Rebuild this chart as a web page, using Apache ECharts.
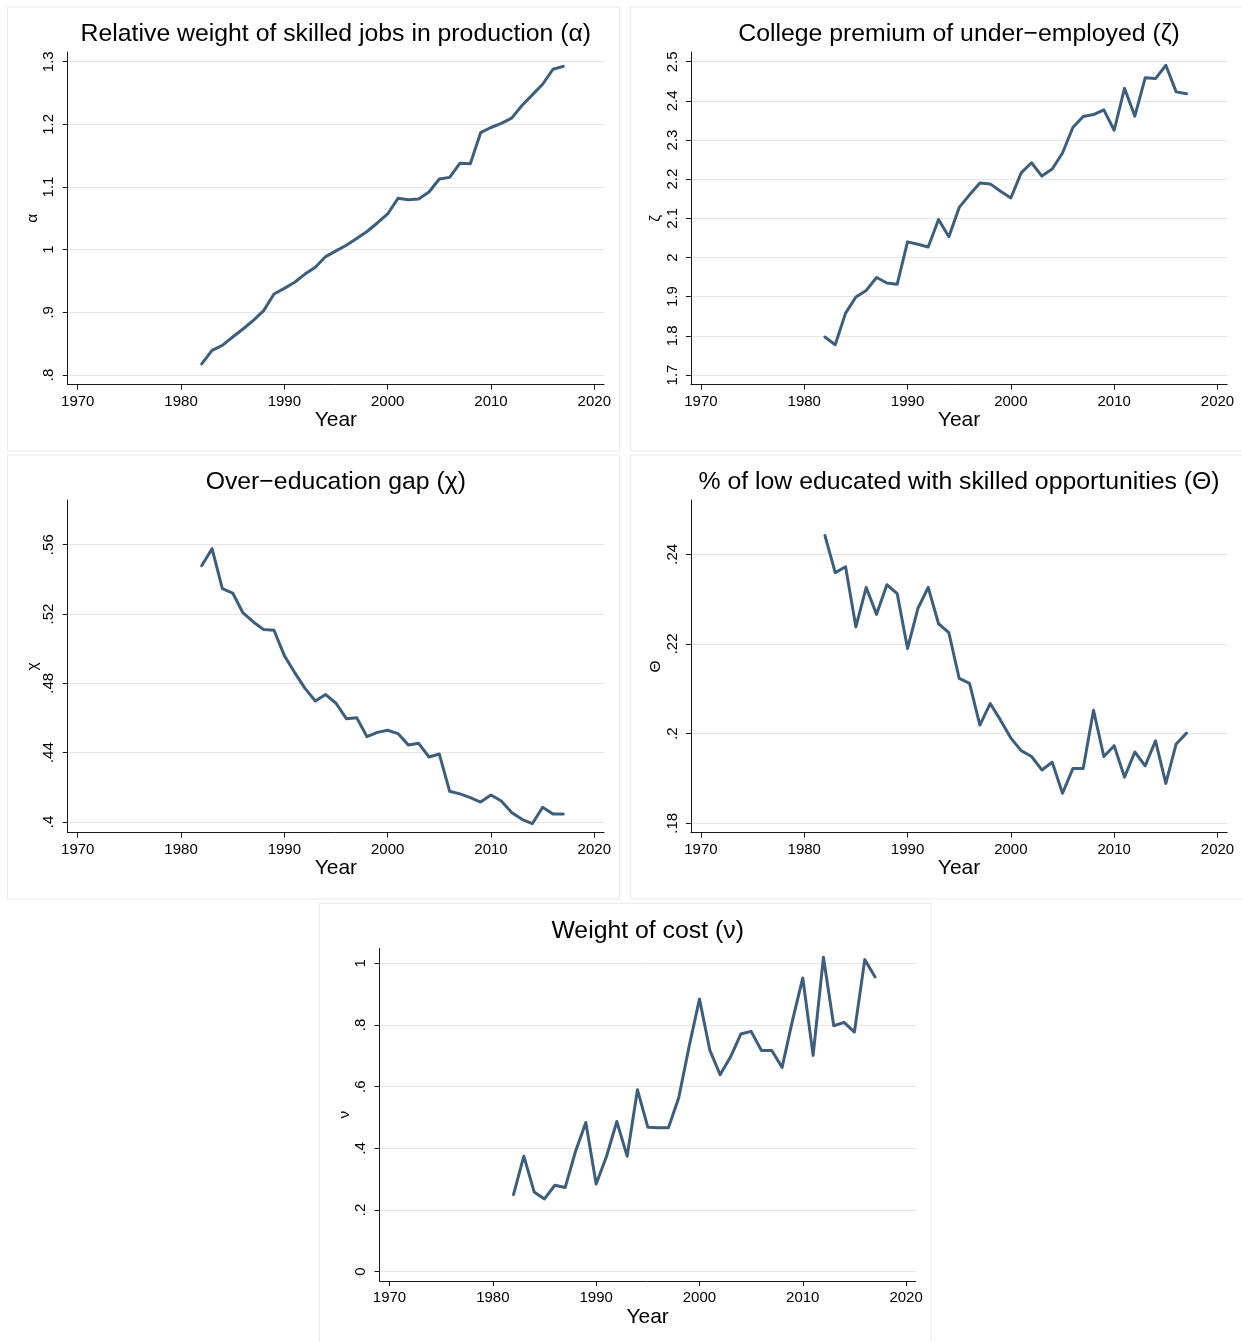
<!DOCTYPE html>
<html><head><meta charset="utf-8">
<script src="https://cdn.jsdelivr.net/npm/echarts@6/dist/echarts.min.js"></script>
<style>html,body{margin:0;padding:0;background:#fff}#c{width:1242px;height:1342px}</style>
</head><body><div id="c"></div>
<script>
// ---- data ----
const years = [1982,1983,1984,1985,1986,1987,1988,1989,1990,1991,1992,1993,1994,1995,1996,1997,1998,1999,2000,2001,2002,2003,2004,2005,2006,2007,2008,2009,2010,2011,2012,2013,2014,2015,2016,2017];
const alpha = [0.8176,0.8394,0.8473,0.8606,0.8734,0.8872,0.9027,0.9293,0.9383,0.948,0.961,0.972,0.989,0.998,1.007,1.018,1.029,1.0426,1.057,1.082,1.0798,1.081,1.092,1.1128,1.1154,1.138,1.137,1.1867,1.195,1.2016,1.210,1.230,1.247,1.264,1.288,1.2926];
const zeta = [1.797,1.7774,1.858,1.899,1.916,1.949,1.935,1.932,2.040,2.034,2.027,2.097,2.053,2.128,2.160,2.190,2.188,2.169,2.152,2.216,2.242,2.208,2.226,2.267,2.332,2.360,2.365,2.377,2.325,2.432,2.361,2.459,2.457,2.491,2.423,2.418];
const chi = [0.5479,0.5577,0.5346,0.5321,0.5206,0.5154,0.5110,0.5106,0.4960,0.4862,0.4771,0.4698,0.4735,0.4685,0.4596,0.4602,0.4492,0.4517,0.4529,0.4510,0.4444,0.4454,0.4375,0.4392,0.4177,0.4162,0.4140,0.4115,0.4156,0.4121,0.4054,0.4015,0.3990,0.4085,0.4046,0.4046];
const theta = [0.2442,0.2359,0.2372,0.2238,0.2326,0.2266,0.2332,0.2312,0.2190,0.2279,0.2326,0.2245,0.2225,0.2123,0.2112,0.2019,0.2067,0.2030,0.1990,0.1962,0.1949,0.1919,0.1936,0.1867,0.1922,0.1922,0.2052,0.1949,0.1973,0.1903,0.1959,0.1928,0.1984,0.1889,0.1977,0.2001];
const nu = [0.250,0.3745,0.2587,0.2359,0.2803,0.2727,0.3896,0.4838,0.2846,0.3734,0.4870,0.3745,0.5898,0.4686,0.4665,0.4665,0.5649,0.7305,0.8842,0.7186,0.6385,0.6959,0.7706,0.7792,0.7175,0.7175,0.6623,0.8139,0.9524,0.7013,1.0195,0.7976,0.8084,0.7771,1.0119,0.9556];

const xTicks = [1970,1980,1990,2000,2010,2020];
const alphaTicks = [0.8,0.9,1,1.1,1.2,1.3];
const zetaTicks = [1.7,1.8,1.9,2,2.1,2.2,2.3,2.4,2.5];
const chiTicks = [0.4,0.44,0.48,0.52,0.56];
const thetaTicks = [0.18,0.2,0.22,0.24];
const nuTicks = [0,0.2,0.4,0.6,0.8,1];

const titles = [
  'Relative weight of skilled jobs in production (\u03b1)',
  'College premium of under\u2212employed (\u03b6)',
  'Over\u2212education gap (\u03c7)',
  '% of low educated with skilled opportunities (\u0398)',
  'Weight of cost (\u03bd)'
];
const yNames = ['\u03b1','\u03b6','\u03c7','\u0398','\u03bd'];
const xName = 'Year';

// ---- layout ----
const panels = [
  {px:7.5,  py:7,     vals:alpha, ticks:alphaTicks, ymin:0.7845, ymax:1.3155},
  {px:630.7,py:7,     vals:zeta,  ticks:zetaTicks,  ymin:1.6752, ymax:2.5248},
  {px:7.5,  py:455,   vals:chi,   ticks:chiTicks,   ymin:0.3938, ymax:0.5858},
  {px:630.7,py:455,   vals:theta, ticks:thetaTicks, ymin:0.1779, ymax:0.2521},
  {px:319.3,py:903.3, vals:nu,    ticks:nuTicks,    ymin:-0.0302,ymax:1.0486}
];
const FONT = 'Liberation Sans, Arial, Helvetica, sans-serif';
const LINE = '#3d5f7b';
const AX = '#1a1a1a';
const GRID = '#e6e6e6';
const fmtY = v => {
  let s = String(Math.round(v*1000)/1000);
  return s.replace(/^0\./,'.').replace(/^-0\./,'-.');
};

const grids=[], xAxes=[], yAxes=[], series=[], titleOpts=[], graphics=[];
panels.forEach((p,i)=>{
  const gl = p.px+60.2, gt = p.py+45, gw = 536.3, gh = 332.7;
  grids.push({left:gl, top:gt, width:gw, height:gh, containLabel:false});
  graphics.push({type:'rect', silent:true, z:-10,
    shape:{x:p.px, y:p.py, width:612, height:444},
    style:{fill:'#fff', stroke:'#e9e9e9', lineWidth:1}});
  titleOpts.push({text:titles[i], left:gl+gw/2, top:p.py+27.5, textAlign:'center', textVerticalAlign:'middle', padding:0,
    textStyle:{fontFamily:FONT, fontSize:24.8, fontWeight:'normal', color:'#000'}});
  xAxes.push({gridIndex:i, type:'value', min:1969.03, max:2020.94,
    name:xName, nameLocation:'middle', nameGap:24,
    nameTextStyle:{fontFamily:FONT, fontSize:21, color:'#000'},
    axisLine:{show:true, onZero:false, lineStyle:{color:AX, width:1}},
    axisTick:{show:true, inside:false, length:5, customValues:xTicks, lineStyle:{color:AX, width:1}},
    axisLabel:{show:true, customValues:xTicks, margin:9.5, fontFamily:FONT, fontSize:15, color:'#000', formatter:v=>String(Math.round(v))},
    splitLine:{show:false}, minorTick:{show:false}});
  yAxes.push({gridIndex:i, type:'value', min:p.ymin, max:p.ymax,
    name:yNames[i], nameLocation:'middle', nameGap:27, nameRotate:90,
    nameTextStyle:{fontFamily:FONT, fontSize:15.5, color:'#000'},
    axisLine:{show:true, onZero:false, lineStyle:{color:AX, width:1}},
    axisTick:{show:true, inside:false, length:5, customValues:p.ticks, lineStyle:{color:AX, width:1}},
    axisLabel:{show:true, customValues:p.ticks, rotate:90, margin:11, fontFamily:FONT, fontSize:15, color:'#000', formatter:fmtY},
    splitLine:{show:true, lineStyle:{color:GRID, width:1}}});
  series.push({type:'line', xAxisIndex:i, yAxisIndex:i,
    data: years.map((y,k)=>[y, p.vals[k]]),
    showSymbol:false, symbol:'none', smooth:false,
    lineStyle:{color:LINE, width:3, cap:'round', join:'round'},
    emphasis:{disabled:true}, silent:true, z:5});
});

const chart = echarts.init(document.getElementById('c'), null, {renderer:'canvas'});
chart.setOption({
  backgroundColor:'#fff',
  animation:false,
  title:titleOpts,
  grid:grids,
  xAxis:xAxes,
  yAxis:yAxes,
  series:series,
  graphic:graphics,
  tooltip:{show:false}
});
</script></body></html>
